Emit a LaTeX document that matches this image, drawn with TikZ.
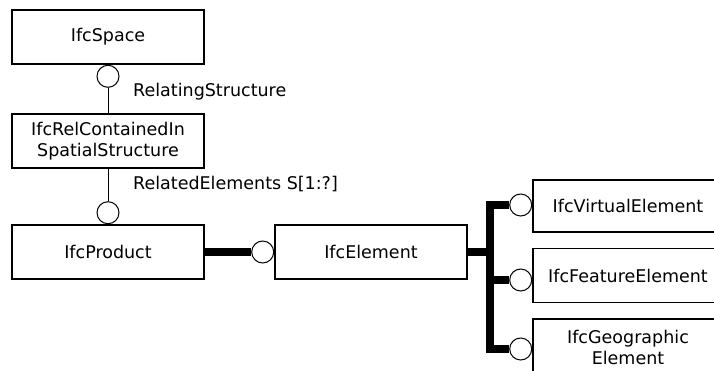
\documentclass[tikz,border=0pt]{standalone}
\usepackage{fontspec}
\setmainfont{DejaVu Sans}
\usetikzlibrary{positioning}

\begin{document}
\begin{tikzpicture}[
    x=1pt, y=-1pt,
    entity/.style={draw, line width=1.6pt, minimum width=192pt, minimum height=54pt, inner sep=2pt, align=center, font=\fontsize{17.5}{21}\selectfont},
    subentity/.style={entity, minimum width=200pt},
    attr/.style={draw, circle, line width=1pt, minimum size=22pt, inner sep=0pt, fill=white},
    rolelabel/.style={anchor=west, inner sep=0pt, font=\fontsize{17.5}{21}\selectfont},
    thinlink/.style={line width=1pt},
    sublink/.style={line width=8pt},
]

\useasboundingbox (0,0) rectangle (714,370);
\clip (0,0) rectangle (714,370);

\def\colA{108}
\def\colB{371}
\def\colC{633}

% === Spatial containment ===
\node[entity] (space) at (\colA,37) {IfcSpace};
\node[entity] (rel) at (\colA,141) {IfcRelContainedIn\\SpatialStructure};
\node[entity] (product) at (\colA,252) {IfcProduct};
\node[attr, below=0pt of space] (c1) {};
\node[attr, above=0pt of product] (c2) {};
\draw[thinlink] (c1) -- (rel);
\draw[thinlink] (rel) -- (c2);
\node[rolelabel] (relating) at (133,92) {RelatingStructure};
\node[rolelabel] (related) at (133,184) {RelatedElements S[1:?]};

% === Subtypes ===
\node[entity] (element) at (\colB,252) {IfcElement};
\node[attr, left=0pt of element] (c3) {};
\draw[sublink] (product.east) -- (c3.west);

% right-hand boxes run past the edge; text nudged left to sit where it should
\node[subentity, minimum height=52pt] (virtual) at (\colC,206) {\hspace*{-10pt}IfcVirtualElement};
\node[subentity] (feature) at (\colC,275.5) {\hspace*{-10pt}IfcFeatureElement};
\node[subentity, minimum height=56pt] (geographic) at (\colC,347) {\hspace*{-10pt}IfcGeographic\\\hspace*{-10pt}Element};
\node[attr, left=0pt of virtual, yshift=1pt] (vc) {};
\node[attr, left=0pt of feature, yshift=-4.5pt] (fc) {};
\node[attr, left=0pt of geographic, yshift=-2pt] (gc) {};

\coordinate (fork) at (490,252);
\draw[sublink] (element.east) -- (fork);
\draw[sublink] (vc.west) -| (fork) |- (gc.west);
\draw[sublink] (fc.west) -- (fc.west -| fork);

\end{tikzpicture}
\end{document}
